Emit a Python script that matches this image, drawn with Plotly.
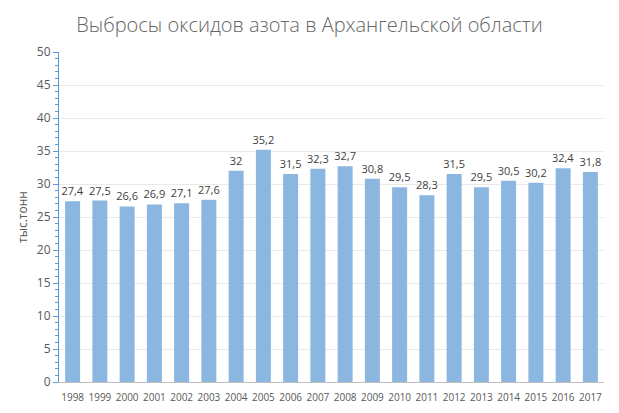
import plotly.graph_objects as go

years = [str(y) for y in range(1998, 2018)]
values = [27.4, 27.5, 26.6, 26.9, 27.1, 27.6, 32, 35.2, 31.5, 32.3,
          32.7, 30.8, 29.5, 28.3, 31.5, 29.5, 30.5, 30.2, 32.4, 31.8]
labels = [str(v).replace(".", ",") for v in values]

# page body has an 8px margin, so the figure is a bit smaller than the window
W, H = 603, 397
ML, MR, MT, MB = 51, 7, 44, 23

fig = go.Figure(go.Bar(
    x=years, y=values,
    text=labels, textposition="outside", constraintext="none",
    textfont=dict(family="Open Sans, sans-serif", size=11, color="#404040"),
    marker=dict(color="rgb(138,182,224)", line=dict(width=0)),
    cliponaxis=False,
    hoverinfo="x+y",
))

fig.update_layout(
    width=W, height=H,
    margin=dict(l=ML, r=MR, t=MT, b=MB, autoexpand=False),
    paper_bgcolor="white", plot_bgcolor="white",
    bargap=0.45,
    showlegend=False,
    title=dict(
        text="Выбросы оксидов азота в Архангельской области",
        x=0.5, xanchor="center", y=1 - 17 / H, yanchor="middle",
        font=dict(family="Open Sans, sans-serif", size=20, color="#666666", weight=300),
    ),
    font=dict(family="Open Sans, sans-serif", color="#595959"),
    xaxis=dict(
        type="category",
        showgrid=False, automargin=False,
        showline=True, linecolor="#bfbfbf", linewidth=1,
        ticks="", tickangle=0, ticklabelstandoff=6,
        tickfont=dict(size=10, color="#595959"),
    ),
    yaxis=dict(
        range=[0, 50], dtick=5, automargin=False,
        showgrid=True, gridcolor="#e9e9e9", gridwidth=1,
        zeroline=False,
        showline=True, linecolor="#5b9bd5", linewidth=1,
        ticks="outside", ticklen=5, tickcolor="#5b9bd5",
        minor=dict(dtick=1, ticks="outside", ticklen=3, tickcolor="#5b9bd5", showgrid=False),
        tickfont=dict(size=12, color="#595959"),
        title=dict(text="тыс.тонн", font=dict(size=12, color="#595959"), standoff=6),
    ),
)

fig.write_html("out.html")
